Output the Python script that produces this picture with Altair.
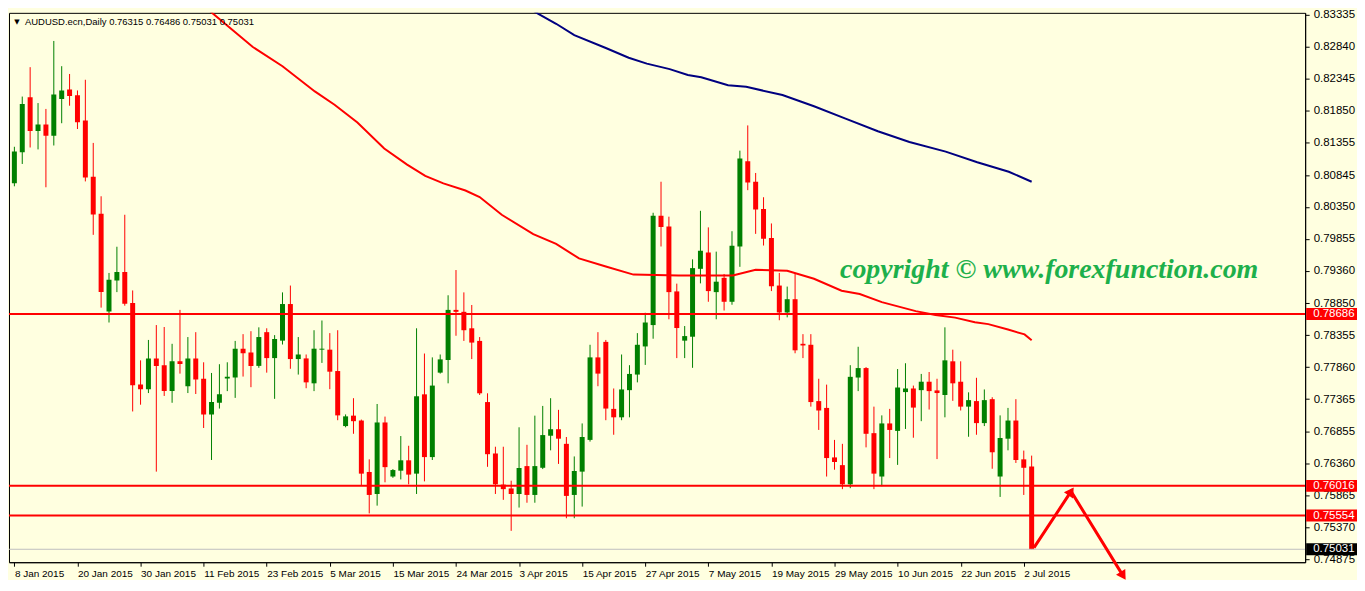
import altair as alt
import pandas as pd
import numpy as np

# ---------------- data ----------------
opens = [0.80716, 0.81198, 0.82053, 0.81530, 0.81631, 0.81454, 0.82028, 0.82174, 0.82083, 0.81691,
         0.80817, 0.80243, 0.78725, 0.79207, 0.79339, 0.78856, 0.77589, 0.77518, 0.77996, 0.77891,
         0.77488, 0.77951, 0.77564, 0.77996, 0.77680, 0.77126, 0.77307, 0.77684, 0.77699, 0.78147,
         0.78087, 0.77880, 0.78404, 0.78001, 0.78272, 0.78841, 0.77986, 0.77996, 0.77609, 0.78132,
         0.78132, 0.77800, 0.76945, 0.77107, 0.77031, 0.76232, 0.75890, 0.77001, 0.76161, 0.76252,
         0.76413, 0.76206, 0.77438, 0.76463, 0.77775, 0.77971, 0.78750, 0.78720, 0.78464, 0.78268,
         0.77318, 0.76519, 0.76036, 0.75976, 0.75890, 0.76323, 0.75875, 0.76297, 0.76795, 0.76896,
         0.76669, 0.75875, 0.76237, 0.76730, 0.78012, 0.78253, 0.77212, 0.77081, 0.77503, 0.77745,
         0.78182, 0.78514, 0.80213, 0.80047, 0.79037, 0.78272, 0.78333, 0.79388, 0.79640, 0.79026,
         0.79248, 0.78876, 0.79735, 0.81058, 0.80741, 0.80319, 0.79866, 0.79128, 0.78710, 0.78916,
         0.78223, 0.78208, 0.77333, 0.77227, 0.76458, 0.76338, 0.76040, 0.77699, 0.77846, 0.76835,
         0.76161, 0.76986, 0.76870, 0.77473, 0.77529, 0.77503, 0.77634, 0.77499, 0.77428, 0.77951,
         0.77634, 0.77247, 0.77333, 0.76991, 0.77363, 0.76161, 0.76749, 0.77031, 0.76428, 0.76315]
highs = [0.81284, 0.82064, 0.82521, 0.81963, 0.81872, 0.82928, 0.82536, 0.82415, 0.82159, 0.82325,
         0.81344, 0.80515, 0.79324, 0.79731, 0.80228, 0.79052, 0.77966, 0.78283, 0.78514, 0.78484,
         0.78223, 0.78750, 0.78328, 0.78404, 0.77936, 0.77770, 0.77906, 0.77936, 0.78268, 0.78373,
         0.78419, 0.78479, 0.78464, 0.78358, 0.79022, 0.79128, 0.78328, 0.78057, 0.78434, 0.78585,
         0.78389, 0.78434, 0.77126, 0.77378, 0.77046, 0.76428, 0.77288, 0.77092, 0.76277, 0.76790,
         0.76639, 0.78464, 0.78072, 0.78012, 0.78057, 0.78977, 0.79369, 0.79022, 0.78826, 0.78328,
         0.77454, 0.76624, 0.76624, 0.76096, 0.76926, 0.76654, 0.77107, 0.77258, 0.77378, 0.77197,
         0.76775, 0.76473, 0.76986, 0.78208, 0.78404, 0.78283, 0.77529, 0.78057, 0.77891, 0.78389,
         0.78705, 0.80259, 0.80741, 0.80198, 0.79158, 0.78499, 0.79535, 0.80289, 0.80032, 0.79655,
         0.79308, 0.79972, 0.81224, 0.81616, 0.80877, 0.80500, 0.80093, 0.79324, 0.79112, 0.79324,
         0.78373, 0.78373, 0.77680, 0.77589, 0.76730, 0.76669, 0.77891, 0.78177, 0.77861, 0.77247,
         0.77111, 0.77212, 0.77831, 0.77921, 0.77574, 0.77755, 0.77785, 0.77680, 0.78479, 0.78132,
         0.77951, 0.77469, 0.77695, 0.77514, 0.77393, 0.77111, 0.77227, 0.77363, 0.76564, 0.76486]
lows = [0.80670, 0.81017, 0.81273, 0.81243, 0.80655, 0.81304, 0.81650, 0.81922, 0.81560, 0.80746,
        0.79916, 0.78785, 0.78554, 0.79026, 0.78815, 0.77172, 0.77277, 0.77458, 0.76237, 0.77413,
        0.77307, 0.77760, 0.77458, 0.77443, 0.76915, 0.76418, 0.77217, 0.77488, 0.77383, 0.77714,
        0.77549, 0.77850, 0.77775, 0.77368, 0.78212, 0.77835, 0.77745, 0.77533, 0.77488, 0.77926,
        0.77518, 0.77036, 0.76926, 0.76825, 0.76021, 0.75588, 0.75709, 0.76071, 0.76141, 0.76116,
        0.76040, 0.75890, 0.76086, 0.76418, 0.77760, 0.77609, 0.78348, 0.78268, 0.77986, 0.77428,
        0.76312, 0.75890, 0.75799, 0.75317, 0.75679, 0.75754, 0.75754, 0.76277, 0.76568, 0.76357,
        0.75513, 0.75513, 0.75694, 0.76704, 0.77564, 0.77036, 0.76810, 0.77036, 0.77081, 0.77624,
        0.77895, 0.78302, 0.79735, 0.78604, 0.78001, 0.78001, 0.77850, 0.79162, 0.78876, 0.78604,
        0.78740, 0.78830, 0.79419, 0.80610, 0.79931, 0.79750, 0.79042, 0.78589, 0.78634, 0.78076,
        0.78001, 0.77247, 0.76885, 0.76161, 0.76267, 0.75965, 0.75980, 0.77488, 0.76614, 0.75965,
        0.76010, 0.76448, 0.76342, 0.76900, 0.76764, 0.77021, 0.77202, 0.76432, 0.77081, 0.77337,
        0.77187, 0.76779, 0.76810, 0.76945, 0.76282, 0.75844, 0.76568, 0.76372, 0.75875, 0.75031]
closes = [0.81209, 0.81948, 0.81530, 0.81631, 0.81454, 0.82098, 0.82159, 0.82073, 0.81666, 0.80806,
          0.80233, 0.79026, 0.79218, 0.79339, 0.78845, 0.77579, 0.77518, 0.77996, 0.77880, 0.77488,
          0.77951, 0.77910, 0.77996, 0.77669, 0.77126, 0.77318, 0.77438, 0.77710, 0.78147, 0.78076,
          0.77880, 0.78328, 0.78001, 0.78298, 0.78841, 0.77986, 0.78057, 0.77624, 0.78147, 0.78147,
          0.77790, 0.77111, 0.77096, 0.77021, 0.76206, 0.75875, 0.77001, 0.76307, 0.76262, 0.76413,
          0.76191, 0.77408, 0.76463, 0.77574, 0.77981, 0.78750, 0.78720, 0.78434, 0.78242, 0.77454,
          0.76508, 0.76040, 0.75965, 0.75890, 0.76292, 0.75875, 0.76323, 0.76805, 0.76896, 0.76749,
          0.75860, 0.76247, 0.76775, 0.78012, 0.77760, 0.77217, 0.77081, 0.77514, 0.77755, 0.78208,
          0.78554, 0.80213, 0.80037, 0.79026, 0.78468, 0.78343, 0.79399, 0.79670, 0.79042, 0.79188,
          0.78876, 0.79746, 0.81103, 0.80731, 0.80308, 0.79856, 0.79117, 0.78710, 0.78916, 0.78122,
          0.78197, 0.77318, 0.77187, 0.76448, 0.76387, 0.76040, 0.77710, 0.77846, 0.76825, 0.76206,
          0.76986, 0.76885, 0.77544, 0.77529, 0.77232, 0.77634, 0.77488, 0.77458, 0.77966, 0.77609,
          0.77247, 0.77348, 0.76991, 0.77348, 0.76538, 0.76760, 0.77031, 0.76418, 0.76297, 0.75031]

date_labels = ["8 Jan 2015", "20 Jan 2015", "30 Jan 2015", "11 Feb 2015", "23 Feb 2015",
               "5 Mar 2015", "15 Mar 2015", "24 Mar 2015", "3 Apr 2015", "15 Apr 2015",
               "27 Apr 2015", "7 May 2015", "19 May 2015", "29 May 2015", "10 Jun 2015",
               "22 Jun 2015", "2 Jul 2015"]
price_ticks = [0.83335, 0.82840, 0.82345, 0.81850, 0.81355, 0.80845, 0.80350, 0.79855, 0.79360,
               0.78850, 0.78355, 0.77860, 0.77365, 0.76855, 0.76360, 0.75865, 0.75370, 0.74875]

red_ma_idx = [24.5, 25.2, 30.2, 34.0, 38.1, 40.6, 43.5, 46.9, 49.8, 52.1, 54.4, 57.2, 59.0, 61.8,
              65.8, 68.7, 71.6, 75.0, 78.5, 84.2, 91.1, 94.0, 98.0, 101.4, 104.9, 107.2, 110.0,
              114.3, 116.8, 119.3, 121.8, 123.5, 126.0, 128.1, 129.0]
red_ma_val = [0.83425, 0.83350, 0.82837, 0.82536, 0.82144, 0.81937, 0.81661, 0.81258, 0.81008,
              0.80832, 0.80716, 0.80605, 0.80504, 0.80228, 0.79927, 0.79776, 0.79550, 0.79425,
              0.79298, 0.79283, 0.79283, 0.79373, 0.79358, 0.79233, 0.79048, 0.78996, 0.78871,
              0.78731, 0.78670, 0.78630, 0.78559, 0.78529, 0.78444, 0.78369, 0.78278]
blue_ma_idx = [65.5, 66.5, 68.7, 71.0, 75.0, 77.9, 80.2, 83.1, 85.4, 87.1, 90.5, 92.8, 97.4,
               101.4, 105.4, 109.5, 113.5, 118.1, 122.1, 126.1, 129.0]
blue_ma_val = [0.83419, 0.83346, 0.83195, 0.83018, 0.82818, 0.82667, 0.82576, 0.82490, 0.82400,
               0.82365, 0.82239, 0.82215, 0.82088, 0.81913, 0.81721, 0.81525, 0.81359, 0.81209,
               0.81043, 0.80896, 0.80741]

levels = [0.78686, 0.76016, 0.75554]
bid = [0.75031]

arrow_idx = [129.3, 134.0, 140.6]
arrow_price = [0.75056, 0.75930, 0.74618]

copyright_text = ["copyright \u00a9  www.forexfunction.com"]
copyright_idx = [104.7]
copyright_price = [0.79369]

symbol = "AUDUSD.ecn,Daily"

# ---------------- tables ----------------
df = pd.DataFrame({"i": np.arange(len(opens)), "open": opens, "high": highs,
                   "low": lows, "close": closes})
df["dir"] = np.where(df["close"] >= df["open"], "up", "down")

red_df = pd.DataFrame({"i": red_ma_idx, "v": red_ma_val})
blue_df = pd.DataFrame({"i": blue_ma_idx, "v": blue_ma_val})
lev_df = pd.DataFrame({"level": levels})
bid_df = pd.DataFrame({"level": bid})
arr_df = pd.DataFrame({"i": arrow_idx, "p": arrow_price, "o": range(len(arrow_idx))})
cp_df = pd.DataFrame({"i": copyright_idx, "p": copyright_price, "t": copyright_text})
header = f"{symbol}  {opens[-1]:.5f} {highs[-1]:.5f} {lows[-1]:.5f} {closes[-1]:.5f}"
hdr_df = pd.DataFrame({"t": [header], "tri": ["\u25bc"]})

# ---------------- scales / axes ----------------
W, H = 1300, 551
xscale = alt.Scale(domain=[-0.05, 163.05], nice=False, zero=False)
yscale = alt.Scale(domain=[0.74830, 0.83365], nice=False, zero=False)

label_expr = "[" + ",".join("'" + s + "'" for s in date_labels) + "][round(datum.value / 8)]"
xaxis = alt.Axis(values=list(range(0, 8 * len(date_labels), 8)), labelExpr=label_expr,
                 labelAlign="left", labelAngle=0, tickSize=4, tickColor="black",
                 domainColor="black", labelColor="black", labelFont="Liberation Sans",
                 labelFontSize=10, labelPadding=2, grid=False, labelOverlap=False,
                 labelFlush=False, title=None)
yaxis = alt.Axis(orient="right", values=price_ticks, format=".5f", tickSize=4,
                 tickColor="black", domainColor="black", labelColor="black",
                 labelFont="Liberation Sans", labelFontSize=11.5, labelPadding=4,
                 grid=False, labelOverlap=False, labelFlush=False, title=None)


def X(field):
    return alt.X(field, scale=xscale, axis=xaxis)


def Y(field):
    return alt.Y(field, scale=yscale, axis=yaxis)


color = alt.Color("dir:N", scale=alt.Scale(domain=["up", "down"],
                                           range=["#008000", "#FF0000"]), legend=None)

base = alt.Chart(df)
wicks = base.mark_rule(strokeWidth=1, clip=True).encode(
    x=X("i:Q"), y=Y("low:Q"), y2="high:Q", color=color)
bodies = base.mark_bar(size=5, strokeWidth=0, clip=True).encode(
    x=X("i:Q"), y=Y("open:Q"), y2="close:Q", color=color)

red_ma = alt.Chart(red_df).mark_line(color="#FF0000", strokeWidth=2, clip=True).encode(
    x=X("i:Q"), y=Y("v:Q"))
blue_ma = alt.Chart(blue_df).mark_line(color="#000080", strokeWidth=2, clip=True).encode(
    x=X("i:Q"), y=Y("v:Q"))

hlines = alt.Chart(lev_df).mark_rule(color="#FF0000", strokeWidth=2, clip=True).encode(
    y=Y("level:Q"))
bidline = alt.Chart(bid_df).mark_rule(color="#C0C0C0", strokeWidth=1, clip=True).encode(
    y=Y("level:Q"))

lev_box = alt.Chart(lev_df).mark_rect(color="#FF0000", yOffset=-6, y2Offset=6, clip=False).encode(
    x=alt.value(W + 1), x2=alt.value(W + 52), y=Y("level:Q"), y2="level:Q")
lev_txt = alt.Chart(lev_df).mark_text(align="left", baseline="middle", color="white",
                                      font="Liberation Sans", fontSize=11.5, clip=False).encode(
    x=alt.value(W + 8), y=Y("level:Q"), text=alt.Text("level:Q", format=".5f"))
bid_box = alt.Chart(bid_df).mark_rect(color="#000000", yOffset=-6, y2Offset=6, clip=False).encode(
    x=alt.value(W + 1), x2=alt.value(W + 52), y=Y("level:Q"), y2="level:Q")
bid_txt = alt.Chart(bid_df).mark_text(align="left", baseline="middle", color="white",
                                      font="Liberation Sans", fontSize=11.5, clip=False).encode(
    x=alt.value(W + 8), y=Y("level:Q"), text=alt.Text("level:Q", format=".5f"))

arrow_line = alt.Chart(arr_df).mark_line(color="#FF0000", strokeWidth=3, clip=False).encode(
    x=X("i:Q"), y=Y("p:Q"), order="o:Q")
head1 = alt.Chart(arr_df.iloc[[1]]).mark_point(shape="triangle-up", angle=34, size=120,
                                               filled=True, opacity=1, color="#FF0000",
                                               clip=False).encode(x=X("i:Q"), y=Y("p:Q"))
head2 = alt.Chart(arr_df.iloc[[2]]).mark_point(shape="triangle-up", angle=148, size=120,
                                               filled=True, opacity=1, color="#FF0000",
                                               clip=False).encode(x=X("i:Q"), y=Y("p:Q"))

cp = alt.Chart(cp_df).mark_text(align="left", baseline="middle", font="Liberation Serif",
                                fontStyle="italic", fontWeight="bold", fontSize=28,
                                color="#1DB04B").encode(
    x=X("i:Q"), y=Y("p:Q"), text="t:N")

hdr_tri = alt.Chart(hdr_df).mark_text(align="center", baseline="middle", fontSize=7,
                                      font="DejaVu Sans", color="black").encode(
    x=alt.value(8), y=alt.value(9), text="tri:N")
hdr = alt.Chart(hdr_df).mark_text(align="left", baseline="middle", fontSize=9.5,
                                  font="Liberation Sans", color="black").encode(
    x=alt.value(16), y=alt.value(9), text="t:N")

chart = alt.layer(
    wicks, bodies, bidline, red_ma, blue_ma, hlines, cp, arrow_line, head1, head2,
    lev_box, lev_txt, bid_box, bid_txt, hdr_tri, hdr
).properties(
    width=W, height=H,
    autosize=alt.AutoSizeParams(type="none"),
    padding={"left": 1, "top": 4, "right": 52, "bottom": 17},
    background="#FFFFE0",
).configure_view(
    stroke="black", strokeWidth=1, fill="#FFFFE0"
)

chart.save("out.html", embed_options={"renderer": "svg", "actions": False})
